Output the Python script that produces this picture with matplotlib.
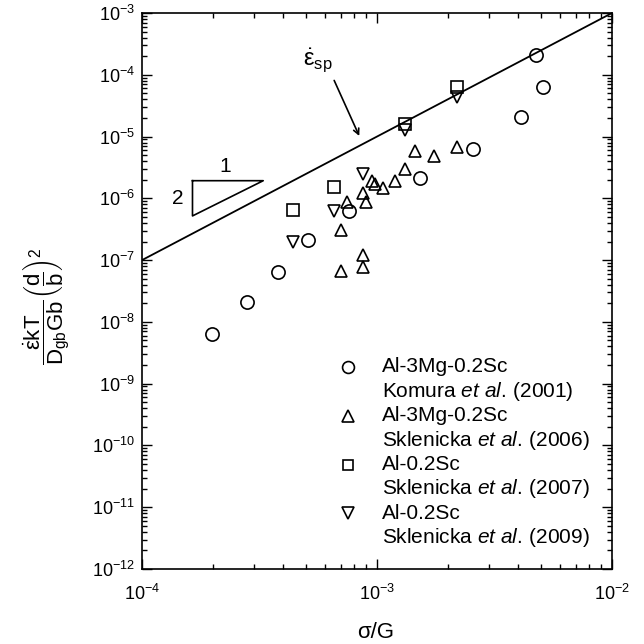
import matplotlib
matplotlib.use("Agg")
import matplotlib.pyplot as plt
from matplotlib.ticker import LogLocator, NullFormatter

plt.rcParams['font.family'] = ['Liberation Sans', 'DejaVu Sans']
plt.rcParams['mathtext.fontset'] = 'custom'
plt.rcParams['mathtext.rm'] = 'Liberation Sans'
plt.rcParams['mathtext.it'] = 'Liberation Sans:italic'
plt.rcParams['mathtext.bf'] = 'Liberation Sans:bold'

# ---- data ----
komura_x = [1.98e-4, 2.79e-4, 3.80e-4, 5.07e-4, 7.62e-4, 1.53e-3, 2.55e-3, 4.08e-3, 4.75e-3, 5.10e-3]
komura_y = [6.4e-9, 2.13e-8, 6.37e-8, 2.12e-7, 6.33e-7, 2.11e-6, 6.2e-6, 2.1e-5, 2.09e-4, 6.35e-5]

skl06_x = [7.02e-4, 8.69e-4, 8.69e-4, 7.02e-4, 7.48e-4, 8.69e-4, 8.98e-4, 9.53e-4, 9.80e-4,
           1.06e-3, 1.19e-3, 1.32e-3, 1.45e-3, 1.75e-3, 2.20e-3]
skl06_y = [6.76e-8, 1.21e-7, 7.67e-8, 3.08e-7, 8.85e-7, 1.21e-6, 8.65e-7, 1.91e-6, 1.71e-6,
           1.46e-6, 1.91e-6, 2.96e-6, 5.91e-6, 4.85e-6, 6.72e-6]

skl07_x = [4.37e-4, 6.56e-4, 1.32e-3, 2.20e-3]
skl07_y = [6.49e-7, 1.51e-6, 1.61e-5, 6.41e-5]

skl09_x = [4.37e-4, 6.56e-4, 8.71e-4, 1.32e-3, 2.20e-3]
skl09_y = [1.97e-7, 6.21e-7, 2.48e-6, 1.30e-5, 4.38e-5]

line_x = [1e-4, 1e-2]
line_y = [1e-7, 1e-3]

legend_l1 = ['Al-3Mg-0.2Sc', 'Al-3Mg-0.2Sc', 'Al-0.2Sc', 'Al-0.2Sc']
legend_l2 = ['Komura $\\it{et\\ al.}\\,$(2001)', 'Sklenicka $\\it{et\\ al.}\\,$(2006)',
             'Sklenicka $\\it{et\\ al.}\\,$(2007)', 'Sklenicka $\\it{et\\ al.}\\,$(2009)']
markers = ['o', '^', 's', 'v']
msizes = [9.5, 9.0, 8.0, 9.0]

fig = plt.figure(figsize=(6.44, 6.44), dpi=100)
W = H = 644.0
L, R, T, B = 142, 612, 13, 569
ax = fig.add_axes([L / W, 1 - B / H, (R - L) / W, (B - T) / H])
ax.set_xscale('log')
ax.set_yscale('log')
ax.set_xlim(1e-4, 1e-2)
ax.set_ylim(1e-12, 1e-3)

ax.plot(line_x, line_y, color='black', lw=1.3)

series = [(komura_x, komura_y), (skl06_x, skl06_y), (skl07_x, skl07_y), (skl09_x, skl09_y)]
for (xs, ys), m, ms in zip(series, markers, msizes):
    ax.plot(xs, ys, linestyle='none', marker=m, markersize=ms, mfc='none',
            mec='black', mew=1.2)

# slope triangle
tx1, tx2 = 1.64e-4, 3.28e-4
ty_top, ty_bot = 1.93e-6, 5.19e-7
ax.plot([tx1, tx2, tx1, tx1], [ty_top, ty_top, ty_bot, ty_top], color='black', lw=1.2)
ax.text(2.27e-4, 3.3e-6, '1', fontsize=15, ha='center', va='center')
ax.text(1.42e-4, 1.0e-6, '2', fontsize=15, ha='center', va='center')

# strain rate annotation
ax.annotate('', xy=(8.5e-4, 9.3e-6), xytext=(6.5e-4, 8.9e-5),
            arrowprops=dict(arrowstyle='->', lw=1.2, color='black'))
ax.text(5.6e-4, 1.75e-4, r'$\dot{\mathrm{\varepsilon}}_{\mathrm{sp}}$', fontsize=17,
        ha='center', va='center')

# legend (manual)
rows = [(569 - (367 + 24.4 * i)) / 556.0 for i in range(8)]
for k, (m, ms, t1, t2) in enumerate(zip(markers, msizes, legend_l1, legend_l2)):
    y1, y2 = rows[2 * k], rows[2 * k + 1]
    ax.plot([0.438], [y1], transform=ax.transAxes, linestyle='none', marker=m,
            markersize=ms * 0.9, mfc='none', mec='black', mew=1.2, clip_on=False)
    ax.text(0.511, y1, t1, transform=ax.transAxes, fontsize=15, va='center', ha='left')
    ax.text(0.511, y2, t2, transform=ax.transAxes, fontsize=15, va='center', ha='left')

# ticks
ax.xaxis.set_major_locator(LogLocator(base=10, numticks=20))
ax.yaxis.set_major_locator(LogLocator(base=10, numticks=20))
ax.xaxis.set_minor_locator(LogLocator(base=10, subs=range(2, 10), numticks=20))
ax.yaxis.set_minor_locator(LogLocator(base=10, subs=range(2, 10), numticks=20))
ax.xaxis.set_minor_formatter(NullFormatter())
ax.yaxis.set_minor_formatter(NullFormatter())
ax.tick_params(which='both', direction='in', top=True, right=True, width=1.0)
ax.tick_params(which='major', length=7, labelsize=13)
ax.tick_params(axis='x', which='major', pad=11)
ax.tick_params(axis='y', which='major', pad=5)
ax.tick_params(which='minor', length=3.5)
for s in ax.spines.values():
    s.set_linewidth(1.2)

fig.text(376 / W, 1 - 633 / H, 'σ/G', fontsize=16, ha='center', va='center')
fig.text(47 / W, 1 - 306 / H,
         r'$\dfrac{\dot{\mathrm{\varepsilon}}\mathrm{kT}}{\mathrm{D_{gb}Gb}}\left(\dfrac{\mathrm{d}}{\mathrm{b}}\right)^{2}$',
         fontsize=16, rotation=90, ha='center', va='center')

fig.savefig('out.png', dpi=100)
